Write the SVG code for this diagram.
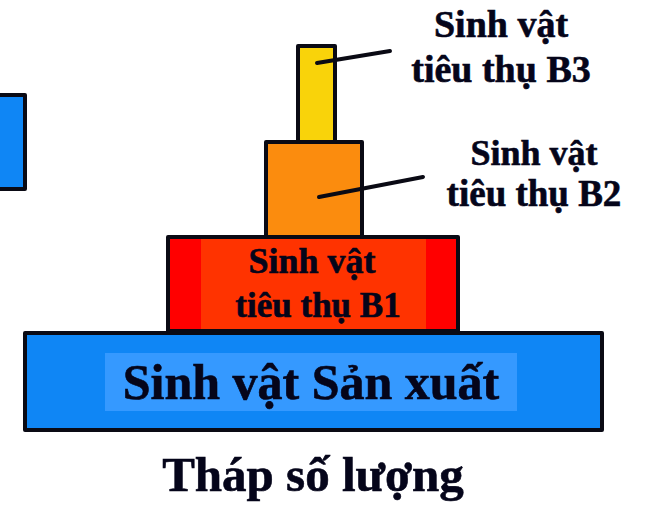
<svg xmlns="http://www.w3.org/2000/svg" width="654" height="506" viewBox="0 0 654 506">
<style>
.box{stroke:#0a0a14;stroke-width:4;stroke-linejoin:round}
.t{font-family:'Liberation Serif','Times New Roman','DejaVu Serif',serif;font-weight:700;fill:#05051a;stroke:#05051a;stroke-width:0.6;text-anchor:middle}
.conn{stroke:#0a0a14;stroke-width:4;stroke-linecap:round;fill:none}
</style>
<rect width="654" height="506" fill="#ffffff"/>
<g id="partial-left">
<rect class="box" x="-6" y="95" width="31" height="94" fill="#0f86f5"/>
</g>
<g id="producer">
<rect class="box" x="25" y="333" width="577" height="97" fill="#0f86f5"/>
<rect x="105" y="353" width="412" height="58" fill="#3599ff"/>
<text class="t" x="311" y="399" font-size="50">Sinh vật Sản xuất</text>
</g>
<g id="b1">
<rect class="box" x="168" y="237" width="290" height="94" fill="#ff0000"/>
<rect x="201" y="239" width="225" height="90" fill="#ff3300"/>
<text class="t" x="312" y="273" font-size="36">Sinh vật</text>
<text class="t" x="318" y="317" font-size="35">tiêu thụ B1</text>
</g>
<g id="b2">
<rect class="box" x="266" y="142" width="96" height="95" fill="#fb8c0e"/>
<text class="t" x="534" y="165" font-size="36">Sinh vật</text>
<text class="t" x="534" y="206" font-size="37">tiêu thụ B2</text>
</g>
<g id="b3">
<rect class="box" x="298" y="46" width="37" height="96" fill="#f9d30a"/>
<text class="t" x="501" y="37" font-size="38">Sinh vật</text>
<text class="t" x="501" y="82" font-size="38">tiêu thụ B3</text>
</g>
<g id="connectors">
<line class="conn" x1="317" y1="63" x2="390" y2="51"/>
<line class="conn" x1="319" y1="197" x2="423" y2="177"/>
</g>
<g id="caption">
<text class="t" x="313" y="491" font-size="49">Tháp số lượng</text>
</g>
</svg>
